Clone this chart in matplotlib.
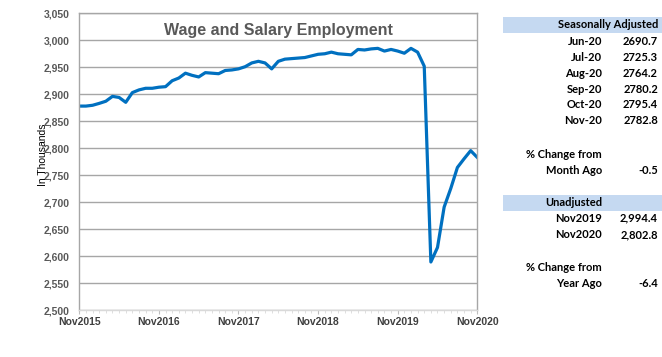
import matplotlib
matplotlib.use("Agg")
import matplotlib.pyplot as plt
import numpy as np

# Monthly seasonally adjusted employment, Nov2015 .. Nov2020 (thousands)
values = [2878, 2878, 2879.5, 2883, 2887, 2896, 2894, 2885, 2903, 2908,
          2911, 2911, 2913, 2914, 2925, 2930, 2939, 2935, 2932, 2940,
          2939, 2938, 2944, 2945, 2947, 2951, 2958, 2961, 2958, 2947,
          2961, 2965, 2966, 2967, 2968, 2971, 2974, 2975, 2978, 2975,
          2974, 2973, 2983, 2982, 2984, 2985, 2980, 2983, 2980, 2976,
          2985, 2978, 2952, 2589, 2616, 2690.7, 2725.3, 2764.2, 2780.2,
          2795.4, 2782.8]
xtick_labels = ["Nov2015", "Nov2016", "Nov2017", "Nov2018", "Nov2019", "Nov2020"]
ytick_values = list(range(2500, 3051, 50))

sa_labels = ["Jun-20", "Jul-20", "Aug-20", "Sep-20", "Oct-20", "Nov-20"]
sa_values = ["2690.7", "2725.3", "2764.2", "2780.2", "2795.4", "2782.8"]
month_change = "-0.5"
un_labels = ["Nov2019", "Nov2020"]
un_values = ["2,994.4", "2,802.8"]
year_change = "-6.4"

W, H = 662, 357
fig = plt.figure(figsize=(W / 100, H / 100), dpi=100)
fig.patch.set_facecolor("white")

def fx(px):
    return px / W

def fy(py):
    return 1 - py / H

ax = fig.add_axes([fx(79.3), fy(310), fx(477.3) - fx(79.3), fy(13.3) - fy(310)])
x = np.arange(len(values))
ax.plot(x, values, color="#0070C0", lw=2.3, solid_joinstyle="round")
ax.set_xlim(0, len(values) - 1)
ax.set_ylim(2500, 3050)
ax.set_yticks(ytick_values)
ax.set_yticklabels([f"{v:,}" for v in ytick_values], fontsize=7.5,
                   fontweight="bold", color="#595959", family="Liberation Sans")
ax.set_xticks(np.arange(0, len(values), 12))
ax.set_xticklabels(xtick_labels, fontsize=7.5, fontweight="bold",
                   color="#404040", family="Liberation Sans")
ax.set_xticks(np.arange(0, len(values)), minor=True)
ax.tick_params(axis="x", which="major", length=3, color="#BFBFBF", pad=2)
ax.tick_params(axis="x", which="minor", length=2, color="#D9D9D9")
ax.tick_params(axis="y", length=0, pad=7)
ax.grid(axis="y", color="#A6A6A6", lw=1)
ax.set_axisbelow(True)
for s in ax.spines.values():
    s.set_color("#A6A6A6")
    s.set_linewidth(1)
ax.spines["bottom"].set_color("#D9D9D9")

ax.set_title("Wage and Salary Employment", fontsize=11.5, fontweight="bold",
             color="#595959", family="Liberation Sans", y=0.9)
fig.text(fx(43), fy(155), "In Thousands", rotation=90, ha="center", va="center",
         fontsize=7.5, family="Liberation Sans", color="black")

# Table
tfont = dict(family="Lato", fontweight="bold", fontsize=8, color="black")
lab_x = fx(602)
val_x = fx(658)

def band(y0, y1):
    fig.patches.append(plt.Rectangle((fx(503), fy(y1)), fx(662) - fx(503),
                                     fy(y0) - fy(y1), transform=fig.transFigure,
                                     facecolor="#C5D9F1", edgecolor="none"))

band(16.7, 32.7)
fig.text(val_x, fy(24.7), "Seasonally Adjusted", ha="right", va="center", **tfont)
for i, (l, v) in enumerate(zip(sa_labels, sa_values)):
    yy = 41.7 + i * 15.8
    fig.text(lab_x, fy(yy), l, ha="right", va="center", **tfont)
    fig.text(val_x, fy(yy), v, ha="right", va="center", **tfont)
fig.text(lab_x, fy(155), "% Change from", ha="right", va="center", **tfont)
fig.text(lab_x, fy(170.5), "Month Ago", ha="right", va="center", **tfont)
fig.text(val_x, fy(170.5), month_change, ha="right", va="center", **tfont)

band(195, 211)
fig.text(lab_x, fy(202.5), "Unadjusted", ha="right", va="center", **tfont)
for i, (l, v) in enumerate(zip(un_labels, un_values)):
    yy = 218.3 + i * 16.7
    fig.text(lab_x, fy(yy), l, ha="right", va="center", **tfont)
    fig.text(val_x, fy(yy), v, ha="right", va="center", **tfont)
fig.text(lab_x, fy(267.7), "% Change from", ha="right", va="center", **tfont)
fig.text(lab_x, fy(283.3), "Year Ago", ha="right", va="center", **tfont)
fig.text(val_x, fy(283.3), year_change, ha="right", va="center", **tfont)

fig.savefig("out.png", dpi=100)
